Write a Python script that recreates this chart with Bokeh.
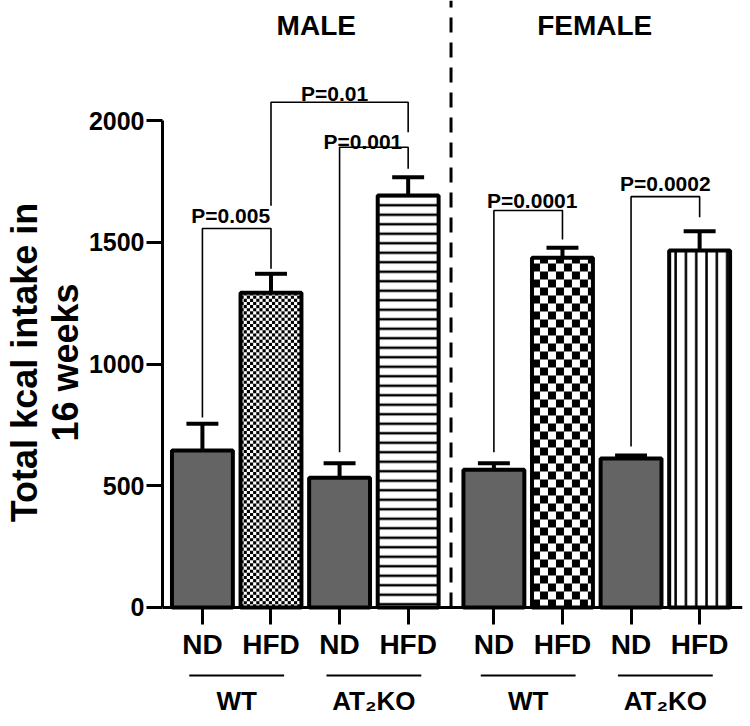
import math
from bokeh.plotting import figure
from bokeh.models import FixedTicker
from bokeh.core.properties import value
from bokeh.embed import file_html
from bokeh.resources import INLINE

# ---------------- data ----------------
sexes = ["MALE", "FEMALE"]
genotypes = ["WT", "AT\u2082KO", "WT", "AT\u2082KO"]
diets = ["ND", "HFD", "ND", "HFD", "ND", "HFD", "ND", "HFD"]
kcal = [645, 1293, 533, 1693, 566, 1437, 612, 1467]
sem = [110, 78, 60, 75, 27, 41, 12, 79]
y_ticks = [0, 500, 1000, 1500, 2000]

sig_pairs = [(0, 1), (1, 3), (2, 3), (4, 5), (6, 7)]
sig_bar_y = [1557, 2076, 1891, 1631, 1688]
sig_left_end = [780, 1651, 638, 638, 661]
sig_right_end = [1392, 1953, 1803, 1512, 1603]
sig_text = ["P=0.005", "P=0.01", "P=0.001", "P=0.0001", "P=0.0002"]
sig_text_y = [1610, 2111, 1915, 1672, 1742]
sig_text_shift_px = [-6, -5, -11, 4, 0]

# ---------------- layout constants ----------------
W, H = 750, 724
BORDER_L, BORDER_R = 161, 8
X_START, X_END = -0.582, 7.875
Y_START, Y_END = -481, 2494
PX_X = (W - BORDER_L - BORDER_R) / (X_END - X_START)
PX_Y = H / (Y_END - Y_START)
BAR_W = 61 / PX_X
CAP_W = 32 / PX_X
GAP = 0.25

x_pos = [i + GAP * (i // 4) for i in range(len(kcal))]

FONT = "Liberation Sans"
FONT_V = value(FONT)

p = figure(width=W, height=H, x_range=(X_START, X_END), y_range=(Y_START, Y_END),
           output_backend="svg", toolbar_location=None,
           min_border_left=BORDER_L, min_border_right=BORDER_R, min_border_top=0, min_border_bottom=0)
p.outline_line_color = None
p.xgrid.visible = False
p.ygrid.visible = False
p.background_fill_color = "white"
p.border_fill_color = "white"

# ---------------- axes ----------------
ya = p.yaxis[0]
ya.ticker = FixedTicker(ticks=y_ticks)
ya.bounds = (0, 2000)
ya.axis_line_width = 3
ya.major_tick_line_width = 3
ya.major_tick_out = 16
ya.major_tick_in = 0
ya.minor_tick_line_color = None
ya.major_label_standoff = 2
ya.major_label_text_font = FONT
ya.major_label_text_font_style = "bold"
ya.major_label_text_font_size = "25px"
ya.major_label_text_color = "black"
ya.axis_label = "Total kcal intake in\n16 weeks"
ya.axis_label_text_font = FONT
ya.axis_label_text_font_style = "bold"
ya.axis_label_text_font_size = "36px"
ya.axis_label_text_line_height = 1.0
ya.axis_label_text_color = "black"
ya.axis_label_standoff = 0

xa = p.xaxis[0]
xa.fixed_location = 0
xa.ticker = FixedTicker(ticks=x_pos)
xa.major_label_overrides = {x: d for x, d in zip(x_pos, diets)}
xa.axis_line_width = 3
xa.major_tick_line_width = 3
xa.major_tick_out = 17
xa.major_tick_in = 0
xa.minor_tick_line_color = None
xa.major_label_standoff = 5
xa.major_label_text_font = FONT
xa.major_label_text_font_style = "bold"
xa.major_label_text_font_size = "28px"
xa.major_label_text_color = "black"

# ---------------- bars ----------------
def checker(xc, top, cell_px):
    x0, x1 = xc - BAR_W / 2, xc + BAR_W / 2
    cw, ch = cell_px / PX_X, cell_px / PX_Y
    nx, ny = math.ceil((x1 - x0) / cw), math.ceil(top / ch)
    L, R, B, T = [], [], [], []
    for i in range(nx):
        for j in range(ny):
            if (i + j) % 2 == 0:
                L.append(x0 + i * cw)
                R.append(min(x0 + (i + 1) * cw, x1))
                B.append(j * ch)
                T.append(min((j + 1) * ch, top))
    return L, R, B, T

fills = ["#646464", "white", "#646464", "white", "#646464", "white", "#646464", "white"]
p.vbar(x=x_pos, top=kcal, width=BAR_W, bottom=0, fill_color=fills, line_color=None)

# fine checker (male WT HFD), coarse checker (female WT HFD)
for idx, cell in [(1, 3.15), (5, 8.0)]:
    L, R, B, T = checker(x_pos[idx], kcal[idx], cell)
    p.quad(left=L, right=R, bottom=B, top=T, fill_color="black", line_color=None)

# line patterns
p.vbar(x=[x_pos[3]], top=[kcal[3]], width=BAR_W, fill_color=None, line_color=None,
       hatch_pattern="horizontal_line", hatch_scale=9.5, hatch_weight=2.5, hatch_color="black")
p.vbar(x=[x_pos[7]], top=[kcal[7]], width=BAR_W, fill_color=None, line_color=None,
       hatch_pattern="vertical_line", hatch_scale=10.3, hatch_weight=2.5, hatch_color="black")

# outlines
p.vbar(x=x_pos, top=kcal, width=BAR_W, bottom=0, fill_color=None, line_color="black", line_width=4)

# error bars (upper only)
tops = [k + s for k, s in zip(kcal, sem)]
p.segment(x0=x_pos, y0=kcal, x1=x_pos, y1=tops, line_color="black", line_width=4)
p.segment(x0=[x - CAP_W / 2 for x in x_pos], y0=tops, x1=[x + CAP_W / 2 for x in x_pos], y1=tops,
          line_color="black", line_width=4)

# ---------------- significance brackets ----------------
xs, ys = [], []
for (a, b), yb, yl, yr in zip(sig_pairs, sig_bar_y, sig_left_end, sig_right_end):
    xs.append([x_pos[a], x_pos[a], x_pos[b], x_pos[b]])
    ys.append([yl, yb, yb, yr])
p.multi_line(xs=xs, ys=ys, line_color="black", line_width=1.6)
p.text(x=[(x_pos[a] + x_pos[b]) / 2 + d / PX_X for (a, b), d in zip(sig_pairs, sig_text_shift_px)],
       y=sig_text_y, text=sig_text,
       text_font=FONT_V, text_font_style="bold", text_font_size="21px",
       text_align="center", text_baseline="alphabetic", text_color="black")

# ---------------- separator and headers ----------------
sep_x = (x_pos[3] + x_pos[4]) / 2
p.segment(x0=[sep_x], y0=[0], x1=[sep_x], y1=[Y_END], line_color="black", line_width=3,
          line_dash="15 10")
p.text(x=[1.66, 5.72], y=[2393, 2393], text=sexes, text_font=FONT_V, text_font_style="bold",
       text_font_size="28px", text_align="center", text_baseline="middle", text_color="black")

# ---------------- genotype group labels ----------------
gx = [(x_pos[2 * g] + x_pos[2 * g + 1]) / 2 for g in range(4)]
UL = 47.5 / PX_X
p.segment(x0=[g - UL for g in gx], y0=[-280] * 4, x1=[g + UL for g in gx], y1=[-280] * 4,
          line_color="black", line_width=2)
p.text(x=gx, y=[-383] * 4, text=genotypes, text_font=FONT_V, text_font_style="bold",
       text_font_size="26px", text_align="center", text_baseline="middle", text_color="black")

open("out.html", "w").write(file_html(p, INLINE))
